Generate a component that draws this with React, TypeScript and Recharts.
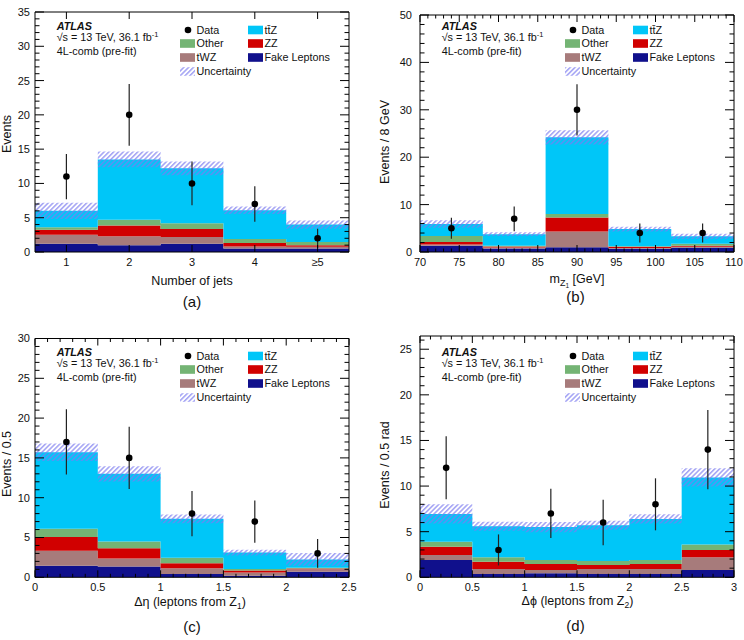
import React from 'react';
import { ComposedChart, Area, Scatter, ErrorBar, XAxis, YAxis } from 'recharts';

const FONT = '"Liberation Sans", Arial, Helvetica, sans-serif';

const COLORS = {
  fake: '#10108c',
  twz: '#a77b7b',
  zz: '#d10000',
  other: '#74b474',
  ttz: '#00c6f8',
  hatch: '#7d7df0',
};

// (a) number of jets
const jetsEdges = [0.5, 1.5, 2.5, 3.5, 4.5, 5.5];
const jetsCenters = [1, 2, 3, 4, 5];
const jetsTickLabels = ['1', '2', '3', '4', '≥5'];
const jetsFake = [1.2, 1.0, 1.2, 0.5, 0.5];
const jetsTwz = [1.3, 1.3, 1.0, 0.3, 0.25];
const jetsZz = [0.75, 1.55, 1.15, 0.5, 0.25];
const jetsOther = [0.35, 0.85, 0.85, 0.6, 0.45];
const jetsTtz = [2.4, 8.8, 8.0, 4.2, 2.55];
const jetsUnc = [1.2, 1.15, 1.0, 0.55, 0.6];
const jetsData = [11, 20, 10, 7, 2];
const jetsErr = [3.3, 4.5, 3.2, 2.6, 1.4];

// (b) m_Z1
const mzEdges = [70, 78, 86, 94, 102, 110];
const mzCenters = [74, 82, 90, 98, 106];
const mzFake = [1.3, 0.75, 1.0, 0.7, 0.9];
const mzTwz = [0.3, 0.2, 3.3, 0.15, 0.2];
const mzZz = [0.5, 0.2, 3.0, 0.25, 0.2];
const mzOther = [1.3, 0.15, 0.7, 0.1, 0.45];
const mzTtz = [2.5, 2.45, 16.2, 3.65, 1.55];
const mzUnc = [0.8, 0.4, 1.5, 0.5, 0.55];
const mzData = [5, 7, 30, 4, 4];
const mzErr = [2.2, 2.6, 5.4, 2.0, 2.0];

// (c) delta eta of the Z1 leptons
const detaEdges = [0, 0.5, 1.0, 1.5, 2.0, 2.5];
const detaCenters = [0.25, 0.75, 1.25, 1.75, 2.25];
const detaFake = [1.45, 1.35, 0.4, 0.2, 0.7];
const detaTwz = [1.9, 1.0, 0.75, 0.4, 0.3];
const detaZz = [1.7, 1.3, 0.6, 0.25, 0.1];
const detaOther = [1.05, 0.85, 0.7, 0.2, 0.1];
const detaTtz = [9.6, 8.5, 4.9, 2.05, 1.05];
const detaUnc = [1.1, 0.95, 0.55, 0.35, 0.8];
const detaData = [17, 15, 8, 7, 3];
const detaErr = [4.1, 3.9, 2.85, 2.65, 1.8];

// (d) delta phi of the Z2 leptons
const dphiEdges = [0, 0.5, 1.0, 1.5, 2.0, 2.5, 3.0];
const dphiCenters = [0.25, 0.75, 1.25, 1.75, 2.25, 2.75];
const dphiFake = [1.9, 0.35, 0.45, 0.35, 0.35, 0.8];
const dphiTwz = [0.55, 0.55, 0.35, 0.55, 0.55, 1.4];
const dphiZz = [0.9, 0.8, 0.65, 0.45, 0.55, 0.8];
const dphiOther = [0.55, 0.5, 0.45, 0.45, 0.45, 0.6];
const dphiTtz = [3.05, 3.4, 3.6, 3.9, 4.5, 7.35];
const dphiUnc = [1.05, 0.5, 0.55, 0.5, 0.5, 1.0];
const dphiData = [12, 3, 7, 6, 8, 14];
const dphiErr = [3.45, 1.7, 2.7, 2.5, 2.85, 4.35];

const steps = (from: number, to: number, n: number) => {
  const out: number[] = [];
  for (let i = 0; i <= n; i++) out.push(from + ((to - from) * i) / n);
  return out;
};

const near = (list: number[], v: number) => list.some((m) => Math.abs(m - v) < 1e-6);
const fmtNum = (v: number) => String(Number(v.toFixed(3)));

type Box = { top: number; right: number; bottom: number; left: number };

type PanelProps = {
  left: number;
  top: number;
  frame: Box; // frame edges inside the panel
  edges: number[];
  centers: number[];
  fake: number[];
  twz: number[];
  zz: number[];
  other: number[];
  ttz: number[];
  unc: number[];
  data: number[];
  err: number[];
  xDomain: [number, number];
  xMajor: number[];
  xMinor: number[];
  xFormat: (v: number) => string;
  yMax: number;
  yMajor: number[];
  yMinor: number[];
  yGap: number;
  yTitle: string;
  yTitlePos: [number, number];
  xTitle: React.ReactNode;
  xTitlePos: [number, number];
  tag: string;
  tagPos: [number, number];
  legendTop: number;
};

const W = 372;
const H = 320;

function Panel(p: PanelProps) {
  const rows = p.edges.map((x, i) => {
    const k = Math.min(i, p.fake.length - 1);
    const total = p.fake[k] + p.twz[k] + p.zz[k] + p.other[k] + p.ttz[k];
    return {
      x,
      fake: p.fake[k],
      twz: p.twz[k],
      zz: p.zz[k],
      other: p.other[k],
      ttz: p.ttz[k],
      band: [total - p.unc[k], total + p.unc[k]],
    };
  });
  const points = p.centers.map((x, i) => ({ x, y: p.data[i], err: p.err[i] }));

  const xTicks = [...p.xMinor, ...p.xMajor.filter((m) => !near(p.xMinor, m))].sort((a, b) => a - b);
  const yTicks = [...p.yMinor, ...p.yMajor.filter((m) => !near(p.yMinor, m))].sort((a, b) => a - b);

  // each axis gets a 1px band; the margins are shrunk by the same amount
  const margin = {
    top: p.frame.top - 1,
    right: W - p.frame.right - 1,
    bottom: H - p.frame.bottom - 1,
    left: p.frame.left - 1,
  };

  const xTick = (side: 'bottom' | 'top') => (t: any) => {
    const v = t.payload.value;
    const major = near(p.xMajor, v);
    const len = major ? 7 : 3.5;
    const dir = side === 'bottom' ? -1 : 1;
    return (
      <g>
        <line x1={t.x} x2={t.x} y1={t.y} y2={t.y + dir * len} stroke="#000" strokeWidth={1} />
        {side === 'bottom' && major ? (
          <text x={t.x} y={t.y + 14} textAnchor="middle" fontSize={11} fontFamily={FONT} fill="#111">
            {p.xFormat(v)}
          </text>
        ) : null}
      </g>
    );
  };

  const yTick = (side: 'left' | 'right') => (t: any) => {
    const v = t.payload.value;
    const major = near(p.yMajor, v);
    const len = major ? 9 : 4.5;
    const dir = side === 'left' ? 1 : -1;
    return (
      <g>
        <line x1={t.x} x2={t.x + dir * len} y1={t.y} y2={t.y} stroke="#000" strokeWidth={1} />
        {side === 'left' && major ? (
          <text x={t.x - p.yGap} y={t.y} dy="0.36em" textAnchor="end" fontSize={11} fontFamily={FONT} fill="#111">
            {fmtNum(v)}
          </text>
        ) : null}
      </g>
    );
  };

  const axisCommon = {
    allowDataOverflow: true,
    interval: 0 as const,
    tickLine: false,
    tickSize: 0,
    tickMargin: 0,
    axisLine: { stroke: '#000', strokeWidth: 1 },
  };

  const ox = p.frame.left;
  const oy = p.legendTop;
  const rowY = [30, 43.5, 57.5, 71.5].map((r) => oy + r);
  const c1Box = ox + 145;
  const c1Text = ox + 161.5;
  const c2Box = ox + 213;
  const c2Text = ox + 229.5;
  const txt = { fontSize: 10.8, fontFamily: FONT, fill: '#111' };

  return (
    <div style={{ position: 'absolute', left: p.left, top: p.top, width: W, height: H }}>
      <ComposedChart width={W} height={H} data={rows} margin={margin}>
        <XAxis xAxisId="b" dataKey="x" type="number" orientation="bottom" height={1} domain={p.xDomain} ticks={xTicks} tick={xTick('bottom')} {...axisCommon} />
        <XAxis xAxisId="t" dataKey="x" type="number" orientation="top" height={1} domain={p.xDomain} ticks={xTicks} tick={xTick('top')} {...axisCommon} />
        <YAxis yAxisId="l" type="number" orientation="left" width={1} domain={[0, p.yMax]} ticks={yTicks} tick={yTick('left')} {...axisCommon} />
        <YAxis yAxisId="r" type="number" orientation="right" width={1} domain={[0, p.yMax]} ticks={yTicks} tick={yTick('right')} {...axisCommon} />
        <Area xAxisId="b" yAxisId="l" type="stepAfter" dataKey="fake" stackId="mc" fill={COLORS.fake} fillOpacity={1} stroke="none" dot={false} activeDot={false} isAnimationActive={false} />
        <Area xAxisId="b" yAxisId="l" type="stepAfter" dataKey="twz" stackId="mc" fill={COLORS.twz} fillOpacity={1} stroke="none" dot={false} activeDot={false} isAnimationActive={false} />
        <Area xAxisId="b" yAxisId="l" type="stepAfter" dataKey="zz" stackId="mc" fill={COLORS.zz} fillOpacity={1} stroke="none" dot={false} activeDot={false} isAnimationActive={false} />
        <Area xAxisId="b" yAxisId="l" type="stepAfter" dataKey="other" stackId="mc" fill={COLORS.other} fillOpacity={1} stroke="none" dot={false} activeDot={false} isAnimationActive={false} />
        <Area xAxisId="b" yAxisId="l" type="stepAfter" dataKey="ttz" stackId="mc" fill={COLORS.ttz} fillOpacity={1} stroke="none" dot={false} activeDot={false} isAnimationActive={false} />
        <Area xAxisId="b" yAxisId="l" type="stepAfter" dataKey="band" fill="url(#uncHatch)" fillOpacity={1} stroke="none" dot={false} activeDot={false} isAnimationActive={false} />
        <Scatter
          xAxisId="b"
          yAxisId="l"
          data={points}
          dataKey="y"
          isAnimationActive={false}
          shape={(s: any) => <circle cx={s.cx} cy={s.cy} r={3.3} fill="#000" />}
        >
          <ErrorBar dataKey="err" direction="y" width={0} stroke="#222" strokeWidth={1.2} isAnimationActive={false} />
        </Scatter>
      </ComposedChart>

      <svg width={W} height={H} style={{ position: 'absolute', left: 0, top: 0, pointerEvents: 'none' }}>
        <text x={ox + 21.7} y={oy + 29.5} fontSize={10.8} fontWeight="bold" fontStyle="italic" fontFamily={FONT} fill="#111">
          ATLAS
        </text>
        <text x={ox + 21.7} y={oy + 41} {...txt}>
          √s = 13 TeV, 36.1 fb
          <tspan dy={-4} fontSize={7.5}>-1</tspan>
        </text>
        <text x={ox + 21.7} y={oy + 54.5} {...txt}>
          4L-comb (pre-fit)
        </text>

        <circle cx={ox + 153} cy={rowY[0]} r={3.3} fill="#000" />
        <text x={c1Text} y={rowY[0]} dy="0.36em" {...txt}>Data</text>
        <rect x={c1Box} y={rowY[1] - 4.3} width={15} height={8.6} fill={COLORS.other} />
        <text x={c1Text} y={rowY[1]} dy="0.36em" {...txt}>Other</text>
        <rect x={c1Box} y={rowY[2] - 4.3} width={15} height={8.6} fill={COLORS.twz} />
        <text x={c1Text} y={rowY[2]} dy="0.36em" {...txt}>tWZ</text>
        <rect x={c1Box} y={rowY[3] - 4.3} width={15} height={8.6} fill="url(#uncHatch)" />
        <text x={c1Text} y={rowY[3]} dy="0.36em" {...txt}>Uncertainty</text>

        <rect x={c2Box} y={rowY[0] - 4.3} width={15} height={8.6} fill={COLORS.ttz} />
        <text x={c2Text} y={rowY[0]} dy="0.36em" {...txt}>tt̄Z</text>
        <rect x={c2Box} y={rowY[1] - 4.3} width={15} height={8.6} fill={COLORS.zz} />
        <text x={c2Text} y={rowY[1]} dy="0.36em" {...txt}>ZZ</text>
        <rect x={c2Box} y={rowY[2] - 4.3} width={15} height={8.6} fill={COLORS.fake} />
        <text x={c2Text} y={rowY[2]} dy="0.36em" {...txt}>Fake Leptons</text>

        <text
          transform={`translate(${p.yTitlePos[0]}, ${p.yTitlePos[1]}) rotate(-90)`}
          textAnchor="middle"
          fontSize={12.5}
          fontFamily={FONT}
          fill="#111"
        >
          {p.yTitle}
        </text>
        <text x={p.xTitlePos[0]} y={p.xTitlePos[1]} textAnchor="middle" fontSize={12.5} fontFamily={FONT} fill="#111">
          {p.xTitle}
        </text>
        <text x={p.tagPos[0]} y={p.tagPos[1]} textAnchor="middle" fontSize={15} fontFamily={FONT} fill="#111">
          {p.tag}
        </text>
      </svg>
    </div>
  );
}

export default function App() {
  return (
    <div style={{ position: 'absolute', left: 0, top: 0, width: 744, height: 640, background: '#fff', overflow: 'hidden' }}>
      <svg width={0} height={0} style={{ position: 'absolute' }}>
        <defs>
          <pattern id="uncHatch" patternUnits="userSpaceOnUse" width={3.4} height={3.4} patternTransform="rotate(45)">
            <line x1={0.8} y1={0} x2={0.8} y2={3.4} stroke={COLORS.hatch} strokeWidth={1.1} />
          </pattern>
        </defs>
      </svg>

      <Panel
        left={0}
        top={0}
        frame={{ top: 12, right: 349, bottom: 252, left: 35 }}
        edges={jetsEdges}
        centers={jetsCenters}
        fake={jetsFake}
        twz={jetsTwz}
        zz={jetsZz}
        other={jetsOther}
        ttz={jetsTtz}
        unc={jetsUnc}
        data={jetsData}
        err={jetsErr}
        xDomain={[0.5, 5.5]}
        xMajor={jetsCenters}
        xMinor={[]}
        xFormat={(v) => jetsTickLabels[jetsCenters.indexOf(Math.round(v))] ?? ''}
        yMax={35}
        yMajor={steps(0, 35, 7)}
        yMinor={steps(0, 35, 35)}
        yGap={5}
        yTitle="Events"
        yTitlePos={[11, 134]}
        xTitle="Number of jets"
        xTitlePos={[192, 285]}
        tag="(a)"
        tagPos={[192, 307]}
        legendTop={0}
      />

      <Panel
        left={372}
        top={0}
        frame={{ top: 15, right: 362, bottom: 252, left: 48 }}
        edges={mzEdges}
        centers={mzCenters}
        fake={mzFake}
        twz={mzTwz}
        zz={mzZz}
        other={mzOther}
        ttz={mzTtz}
        unc={mzUnc}
        data={mzData}
        err={mzErr}
        xDomain={[70, 110]}
        xMajor={steps(70, 110, 8)}
        xMinor={steps(70, 110, 40)}
        xFormat={fmtNum}
        yMax={50}
        yMajor={steps(0, 50, 5)}
        yMinor={steps(0, 50, 25)}
        yGap={8}
        yTitle="Events / 8 GeV"
        yTitlePos={[17, 142]}
        xTitle={
          <>
            <tspan>m</tspan>
            <tspan dy={3} fontSize={9}>Z</tspan>
            <tspan dy={2} fontSize={6.5}>1</tspan>
            <tspan dy={-5}> [GeV]</tspan>
          </>
        }
        xTitlePos={[205, 283]}
        tag="(b)"
        tagPos={[203.5, 302]}
        legendTop={0}
      />

      <Panel
        left={0}
        top={320}
        frame={{ top: 18.5, right: 349, bottom: 257.3, left: 35 }}
        edges={detaEdges}
        centers={detaCenters}
        fake={detaFake}
        twz={detaTwz}
        zz={detaZz}
        other={detaOther}
        ttz={detaTtz}
        unc={detaUnc}
        data={detaData}
        err={detaErr}
        xDomain={[0, 2.5]}
        xMajor={steps(0, 2.5, 5)}
        xMinor={steps(0, 2.5, 25)}
        xFormat={fmtNum}
        yMax={30}
        yMajor={steps(0, 30, 6)}
        yMinor={steps(0, 30, 30)}
        yGap={5}
        yTitle="Events / 0.5"
        yTitlePos={[11, 144]}
        xTitle={
          <>
            <tspan>Δη (leptons from Z</tspan>
            <tspan dy={3} fontSize={8.5}>1</tspan>
            <tspan dy={-3}>)</tspan>
          </>
        }
        xTitlePos={[190, 286]}
        tag="(c)"
        tagPos={[192, 312]}
        legendTop={6}
      />

      <Panel
        left={372}
        top={320}
        frame={{ top: 16, right: 362, bottom: 257.3, left: 48 }}
        edges={dphiEdges}
        centers={dphiCenters}
        fake={dphiFake}
        twz={dphiTwz}
        zz={dphiZz}
        other={dphiOther}
        ttz={dphiTtz}
        unc={dphiUnc}
        data={dphiData}
        err={dphiErr}
        xDomain={[0, 3]}
        xMajor={steps(0, 3, 6)}
        xMinor={steps(0, 3, 30)}
        xFormat={fmtNum}
        yMax={26.45}
        yMajor={steps(0, 25, 5)}
        yMinor={steps(0, 26, 26)}
        yGap={8}
        yTitle="Events / 0.5 rad"
        yTitlePos={[17, 145]}
        xTitle={
          <>
            <tspan>Δϕ (leptons from Z</tspan>
            <tspan dy={3} fontSize={8.5}>2</tspan>
            <tspan dy={-3}>)</tspan>
          </>
        }
        xTitlePos={[205.5, 285]}
        tag="(d)"
        tagPos={[203.5, 311]}
        legendTop={6}
      />
    </div>
  );
}
